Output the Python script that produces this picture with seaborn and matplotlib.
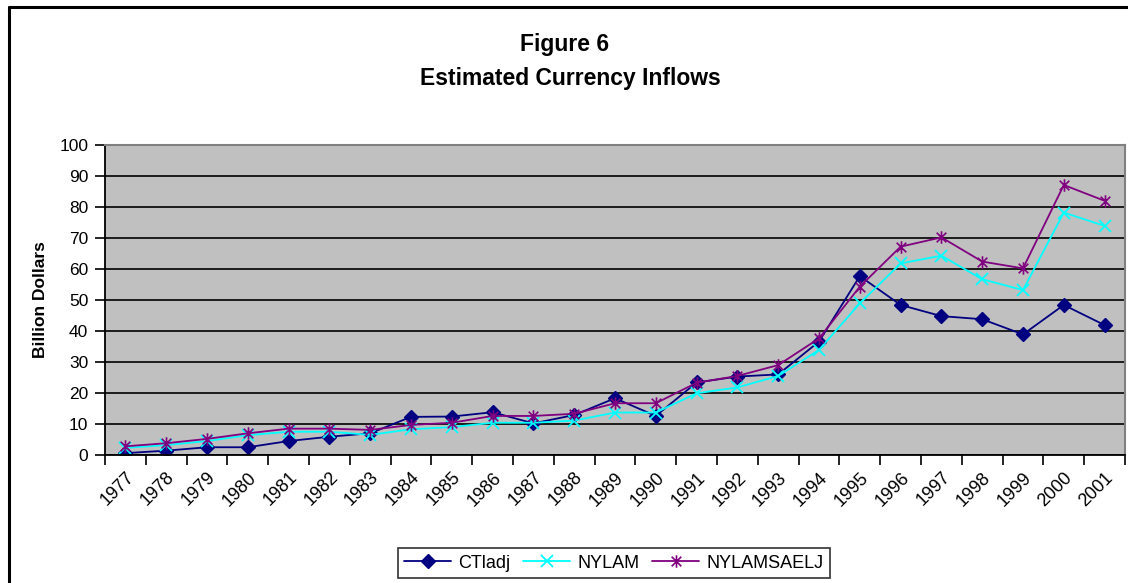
import matplotlib
matplotlib.use("Agg")
import matplotlib.pyplot as plt
from matplotlib.path import Path
from matplotlib.lines import Line2D
import numpy as np
import pandas as pd
import seaborn as sns

# data (billion dollars)
years = [str(y) for y in range(1977, 2002)]
ctladj = [0.6, 1.4, 2.5, 2.5, 4.5, 5.9, 7.0, 12.3, 12.4, 13.8, 10.2, 12.9, 18.3, 12.6,
          23.4, 25.3, 26.0, 36.6, 57.7, 48.4, 44.8, 43.8, 38.9, 48.4, 41.9]
nylam = [2.3, 3.2, 4.5, 6.4, 7.5, 7.5, 6.5, 8.3, 9.0, 10.4, 10.4, 11.1, 13.7, 13.7,
         19.9, 21.8, 25.5, 33.9, 48.9, 61.8, 64.3, 56.7, 53.2, 78.2, 73.9]
nylamsaelj = [2.8, 3.8, 5.2, 7.0, 8.5, 8.5, 8.1, 9.7, 10.4, 12.6, 12.6, 13.3, 16.7, 16.7,
              23.3, 25.5, 29.0, 37.6, 54.3, 67.2, 70.2, 62.4, 60.2, 87.1, 82.0]
series_names = ["CTladj", "NYLAM", "NYLAMSAELJ"]
y_ticks = list(range(0, 101, 10))

df = pd.DataFrame({"year": years, "CTladj": ctladj, "NYLAM": nylam, "NYLAMSAELJ": nylamsaelj})

sns.set_theme(style="white")
plt.rcParams["font.family"] = ["Liberation Sans", "DejaVu Sans"]
plt.rcParams["text.color"] = "black"
plt.rcParams["axes.labelcolor"] = "black"
plt.rcParams["xtick.color"] = "black"
plt.rcParams["ytick.color"] = "black"

# excel-like star marker (x plus vertical bar)
star = Path([(-1, -1), (1, 1), (-1, 1), (1, -1), (0, -1.3), (0, 1.3)],
            [Path.MOVETO, Path.LINETO, Path.MOVETO, Path.LINETO, Path.MOVETO, Path.LINETO])
styles = {
    "CTladj": dict(color="#000080", marker="D", markersize=7),
    "NYLAM": dict(color="#00FFFF", marker="x", markersize=8, markeredgewidth=1.3),
    "NYLAMSAELJ": dict(color="#800080", marker=star, markersize=9, markeredgewidth=1.2),
}

fig = plt.figure(figsize=(11.28, 5.83), dpi=100)
ax = fig.add_axes([105 / 1128, 1 - 455 / 583, 1020 / 1128, 310 / 583])
ax.set_facecolor("#C0C0C0")

for name in series_names:
    st = styles[name]
    sns.lineplot(data=df, x="year", y=name, ax=ax, color=st["color"], linewidth=1.3,
                 marker=st["marker"], markersize=st["markersize"],
                 markeredgecolor=st["color"], markeredgewidth=st.get("markeredgewidth", 1),
                 label=name, legend=False)

ax.set_xlim(-0.5, len(years) - 0.5)
ax.set_ylim(0, 100)
ax.set_yticks(y_ticks)
ax.set_yticklabels([str(v) for v in y_ticks], fontsize=12.5)
ax.yaxis.grid(True, color="black", linewidth=1.2)
ax.set_axisbelow(True)

ax.set_xticks(range(len(years)))
ax.set_xticklabels(years, rotation=45, ha="right", rotation_mode="anchor", fontsize=13)
ax.set_xticks(np.arange(-0.5, len(years)), minor=True)
ax.tick_params(axis="x", which="major", length=0, pad=10)
ax.tick_params(axis="x", which="minor", length=7, width=1.2, color="black", direction="out", bottom=True)
ax.tick_params(axis="y", length=7, width=1.2, color="black", direction="out", left=True, pad=5)
ax.set_xlabel("")
ax.set_ylabel("Billion Dollars", fontsize=12.5, fontweight="bold", labelpad=8)

for side in ["left", "bottom"]:
    ax.spines[side].set_color("black")
    ax.spines[side].set_linewidth(1.3)
for side in ["top", "right"]:
    ax.spines[side].set_color("#808080")
    ax.spines[side].set_linewidth(1.5)

fig.text(565 / 1128, 1 - 45 / 583, "Figure 6", ha="center", va="center", fontsize=16.5, fontweight="bold")
fig.text(570 / 1128, 1 - 78 / 583, "Estimated Currency Inflows", ha="center", va="center",
         fontsize=16.5, fontweight="bold")

# chart area border (left and top visible in crop)
fig.add_artist(Line2D([9 / 1128, 9 / 1128], [0, 1 - 7 / 583], color="black", linewidth=2.2,
                      transform=fig.transFigure))
fig.add_artist(Line2D([9 / 1128, 1], [1 - 7 / 583, 1 - 7 / 583], color="black", linewidth=2.2,
                      transform=fig.transFigure))

handles, labels = ax.get_legend_handles_labels()
leg = fig.legend(handles, labels, loc="center", bbox_to_anchor=(614 / 1128, 1 - 563 / 583),
                 ncol=3, fontsize=13, frameon=True, fancybox=False, handlelength=2.6,
                 columnspacing=0.7, handletextpad=0.4, borderpad=0.35)
leg.get_frame().set_edgecolor("black")
leg.get_frame().set_linewidth(1.2)

fig.savefig("out.png", dpi=100)
